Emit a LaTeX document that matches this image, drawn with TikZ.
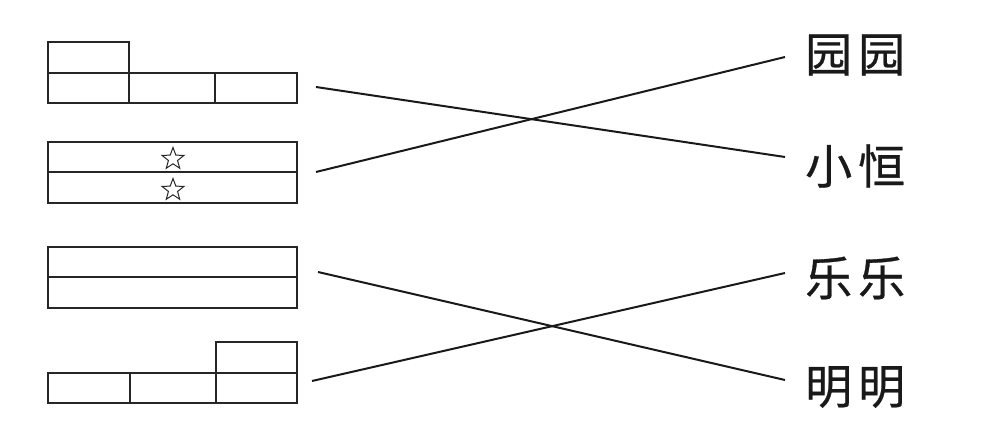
\documentclass[tikz,border=0pt]{standalone}
\usepackage{fontspec}
\newfontfamily\cjk[FakeBold=0.6]{Noto Sans CJK SC}
\usetikzlibrary{shapes.geometric}
\tikzset{
  cell/.style={draw=black!85, line width=1.4pt},
  link/.style={draw=black!90, line width=2pt},
  kidname/.style={font=\cjk\fontsize{47}{47}\selectfont, inner sep=0pt, anchor=west, text=black!90},
  starmark/.style={star, star points=5, star point ratio=2.4, draw=black!85, line width=1pt, minimum size=23pt, inner sep=0pt}
}
\begin{document}
\begin{tikzpicture}[x=1pt, y=-1pt]
\useasboundingbox (0,0) rectangle (991,443);
% shape 1
\draw[cell] (48,42) rectangle (129,73);
\draw[cell] (48,73) rectangle (297,103);
\draw[cell] (129,73) -- (129,103) (215,73) -- (215,103);
% shape 2
\draw[cell] (48,142) rectangle (297,203);
\draw[cell] (48,172) -- (297,172);
\node[starmark] (s1) at (173,159) {};
\node[starmark] (s2) at (173,190) {};
% shape 3
\draw[cell] (48,247) rectangle (297,308);
\draw[cell] (48,277) -- (297,277);
% shape 4
\draw[cell] (216,342) rectangle (297,373);
\draw[cell] (48,373) rectangle (297,403);
\draw[cell] (130,373) -- (130,403) (216,373) -- (216,403);
% names
\node[kidname] (yy) at (805,55) {园\hspace{6pt}园};
\node[kidname] (xh) at (805,166) {小\hspace{6pt}恒};
\node[kidname] (ll) at (805,278) {乐\hspace{6pt}乐};
\node[kidname] (mm) at (805,387) {明\hspace{6pt}明};
% connector ends
\coordinate (a1) at (316,87);
\coordinate (a2) at (316,172);
\coordinate (a3) at (318,272);
\coordinate (a4) at (312,381);
\coordinate (b1) at (785,57);
\coordinate (b2) at (785,157);
\coordinate (b3) at (785,273);
\coordinate (b4) at (785,380);
\draw[link] (a1) -- (b2);
\draw[link] (a2) -- (b1);
\draw[link] (a3) -- (b4);
\draw[link] (a4) -- (b3);
\end{tikzpicture}
\end{document}
